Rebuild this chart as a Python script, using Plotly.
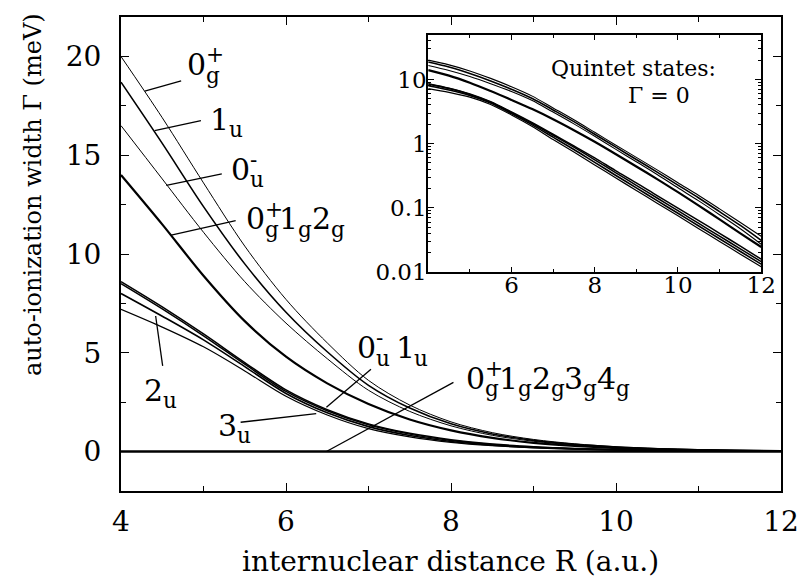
import plotly.graph_objects as go

# ---------------- data ----------------
R = [4, 4.5, 5, 5.5, 6, 6.5, 7, 7.5, 8, 8.5, 9, 9.5, 10, 10.5, 11, 11.5, 12]

# upper group
w_0gp = [20.0, 16.9, 13.6, 10.4, 7.7, 5.5, 3.6, 2.35, 1.5, 0.955, 0.61, 0.39, 0.245, 0.155, 0.096, 0.059, 0.036]
w_1u = [18.7, 15.6, 12.4, 9.5, 7.05, 5.05, 3.35, 2.2, 1.4, 0.89, 0.565, 0.36, 0.226, 0.142, 0.087, 0.053, 0.031]
w_0um = [16.5, 13.8, 11.1, 8.6, 6.5, 4.7, 3.1, 2.03, 1.3, 0.82, 0.52, 0.33, 0.205, 0.128, 0.078, 0.047, 0.027]
w_0gp1g2g = [14.0, 11.5, 8.9, 6.6, 4.8, 3.45, 2.4, 1.62, 1.07, 0.69, 0.44, 0.28, 0.175, 0.108, 0.066, 0.04, 0.0245]

# lower group
w_0um_b = [8.6, 7.32, 5.95, 4.5, 3.12, 2.12, 1.4, 0.92, 0.6, 0.38, 0.245, 0.155, 0.099, 0.063, 0.04, 0.0252, 0.0158]
w_1u_b = [8.5, 7.22, 5.86, 4.42, 3.04, 2.06, 1.35, 0.88, 0.56, 0.354, 0.224, 0.142, 0.09, 0.057, 0.0361, 0.0229, 0.0145]
w_2u = [8.0, 6.85, 5.65, 4.3, 2.94, 1.96, 1.26, 0.81, 0.51, 0.322, 0.204, 0.129, 0.082, 0.052, 0.0329, 0.0208, 0.0132]
w_3u = [7.2, 6.3, 5.3, 4.08, 2.8, 1.85, 1.16, 0.74, 0.465, 0.294, 0.186, 0.118, 0.075, 0.047, 0.0299, 0.0189, 0.012]

# quintet states: zero width
w_quintet = [0, 0, 0, 0, 0, 0, 0, 0, 0, 0, 0, 0, 0, 0, 0, 0, 0]

x_ticks = [4, 6, 8, 10, 12]
y_ticks = [0, 5, 10, 15, 20]
inset_x_ticks = [6, 8, 10, 12]
inset_y_ticks = [0.01, 0.1, 1, 10]
inset_y_labels = ["0.01", "0.1", "1", "10"]

series = [
    (w_0gp, 1.0), (w_1u, 1.6), (w_0um, 1.0), (w_0gp1g2g, 2.2),
    (w_0um_b, 1.5), (w_1u_b, 1.5), (w_2u, 1.6), (w_3u, 1.2),
]

# ---------------- figure ----------------
# the page body has an 8px margin, so the figure is offset by (8, 8)
OFF = 8
W, H = 798, 570
ML, MR, MT, MB = 113, 19, 7, 87
PW, PH = W - ML - MR, H - MT - MB
FONT = "DejaVu Serif"


def sx(px):  # screen x -> figure x
    return px - OFF


def sy(py):
    return py - OFF


fig = go.Figure()
for ys, lw in series:
    fig.add_trace(go.Scatter(x=R, y=ys, mode="lines",
                             line=dict(color="black", width=lw, shape="spline", smoothing=0.9),
                             xaxis="x", yaxis="y", showlegend=False, hoverinfo="skip"))
fig.add_trace(go.Scatter(x=R, y=w_quintet, mode="lines", line=dict(color="black", width=2.6),
                         xaxis="x", yaxis="y", showlegend=False, hoverinfo="skip"))
for ys, lw in series:
    fig.add_trace(go.Scatter(x=R, y=ys, mode="lines",
                             line=dict(color="black", width=max(lw, 1.1), shape="spline", smoothing=0.9),
                             xaxis="x2", yaxis="y2", showlegend=False, hoverinfo="skip"))


def px2p(px, py):
    return (sx(px) - ML) / PW, (H - MB - sy(py)) / PH


ann = []


def text_at(t, px, pyb, size):
    xp, yp = px2p(px, pyb - 0.34 * size)
    ann.append(dict(text=t, x=xp, y=yp, xref="paper", yref="paper", xanchor="left", yanchor="middle",
                    showarrow=False, borderpad=0, font=dict(family=FONT, size=size, color="black")))


WID = {"0": .636, "1": .636, "2": .636, "3": .636, "4": .636, "g": .64, "u": .644, "+": .838, "-": .338, " ": .2}


def label(px, pyb, parts, F=30):
    x = px
    s = 0.72 * F
    for main, sub, sup in parts:
        if main.strip():
            text_at(main, x, pyb, F)
        x += WID[main] * F
        w = 0
        if sub:
            text_at(sub, x, pyb + 0.26 * F, s)
            w = max(w, WID[sub] * s)
        if sup:
            text_at(sup, x, pyb - 0.42 * F, s)
            w = max(w, WID[sup] * s * 0.8)
        x += w


label(187, 73, [("0", "g", "+")])
label(210, 128, [("1", "u", None)])
label(231, 178, [("0", "u", "-")])
label(246, 228, [("0", "g", "+"), ("1", "g", None), ("2", "g", None)])
label(143, 400, [("2", "u", None)])
label(218, 435, [("3", "u", None)])
label(358, 357, [("0", "u", "-"), (" ", None, None), ("1", "u", None)])
label(468, 388, [("0", "g", "+"), ("1", "g", None), ("2", "g", None), ("3", "g", None), ("4", "g", None)])

# inset text
text_at("Quintet states:", 554, 74, 22)
text_at("Γ = 0", 632, 101, 22)

# axis titles
xp, yp = px2p(453, 562)
ann.append(dict(text="internuclear distance R (a.u.)", x=xp, y=yp, xref="paper", yref="paper",
                xanchor="center", yanchor="middle", showarrow=False,
                font=dict(family=FONT, size=28, color="black")))
xp, yp = px2p(32, 193)
ann.append(dict(text="auto-ionization width Γ (meV)", x=xp, y=yp, xref="paper", yref="paper", textangle=-90,
                xanchor="center", yanchor="middle", showarrow=False,
                font=dict(family=FONT, size=24, color="black")))

# pointer lines (data coordinates of main axes)
pointers = [
    ((4.729, 18.77), (4.288, 18.25)),
    ((4.969, 16.75), (4.408, 16.25)),
    ((5.222, 14.06), (4.549, 13.47)),
    ((5.39, 11.69), (4.609, 10.95)),
    ((4.505, 4.34), (4.42, 6.86)),
    ((5.45, 1.48), (6.366, 1.92)),
    ((7.03, 4.17), (6.49, 2.24)),
    ((8.03, 3.5), (6.49, 0.0)),
]
shapes = []
for (x0, y0), (x1, y1) in pointers:
    shapes.append(dict(type="line", xref="x", yref="y", x0=x0, y0=y0, x1=x1, y1=y1,
                       line=dict(color="black", width=1.3)))

# minor tick positions of the log inset axis (2..9 in each decade)
inset_minor = [m * 10 ** e for e in (-2, -1, 0, 1) for m in range(2, 10)]

axis_common = dict(showgrid=False, zeroline=False, showline=True, linecolor="black", linewidth=2,
                   mirror="ticks", ticks="inside", tickcolor="black", tickwidth=1,
                   tickfont=dict(family=FONT, size=28, color="black"))

fig.update_layout(
    width=W, height=H, margin=dict(l=ML, r=MR, t=MT, b=MB),
    paper_bgcolor="white", plot_bgcolor="white",
    font=dict(family=FONT, color="black"),
    xaxis=dict(domain=[0, 1], range=[4, 12], tickvals=x_ticks, ticklen=8,
               minor=dict(tickvals=[5, 7, 9, 11], ticklen=5, ticks="inside", tickcolor="black", showgrid=False),
               ticklabelstandoff=4, **axis_common),
    yaxis=dict(domain=[0, 1], range=[-2, 22], tickvals=y_ticks, ticklen=8,
               minor=dict(tickvals=[-2.5, 2.5, 7.5, 12.5, 17.5], ticklen=5, ticks="inside", tickcolor="black",
                          showgrid=False),
               ticklabelstandoff=12, **axis_common),
    xaxis2=dict(domain=[(sx(431) - ML) / PW, (sx(767) - ML) / PW], anchor="y2", range=[4, 12],
                tickvals=inset_x_ticks, ticklen=5,
                minor=dict(tickvals=[5, 7, 9, 11], ticklen=3, ticks="inside", tickcolor="black", showgrid=False),
                showgrid=False, zeroline=False, showline=True, linecolor="black", linewidth=2,
                mirror="ticks", ticks="inside", tickcolor="black", tickwidth=1, ticklabelstandoff=-9,
                tickfont=dict(family=FONT, size=23, color="black")),
    yaxis2=dict(domain=[(H - MB - sy(271)) / PH, (H - MB - sy(32.7)) / PH], anchor="x2", type="log",
                range=[-2, 1.699], tickvals=inset_y_ticks, ticktext=inset_y_labels, ticklen=6,
                minor=dict(tickvals=inset_minor, ticklen=3, ticks="inside", tickcolor="black", showgrid=False),
                showgrid=False, zeroline=False, showline=True, linecolor="black", linewidth=2,
                mirror="ticks", ticks="inside", tickcolor="black", tickwidth=1, ticklabelstandoff=-5,
                tickfont=dict(family=FONT, size=23, color="black")),
    annotations=ann, shapes=shapes,
)

fig.write_html("out.html")
